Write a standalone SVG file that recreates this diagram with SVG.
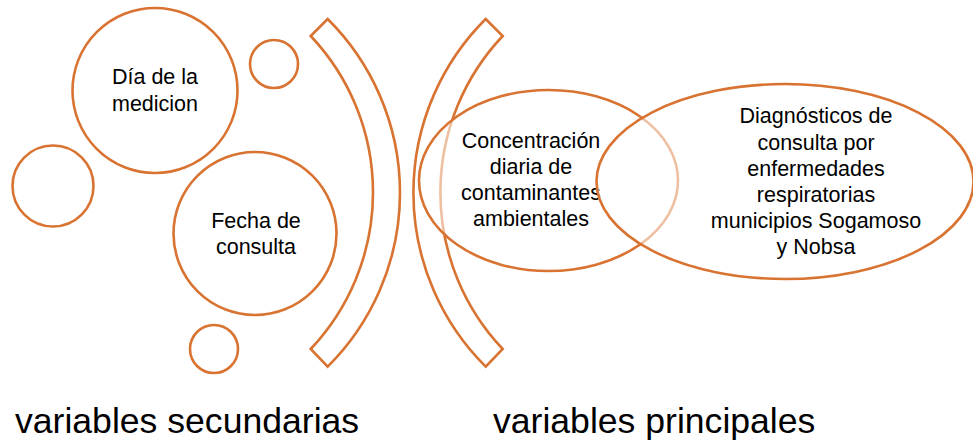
<svg xmlns="http://www.w3.org/2000/svg" width="973" height="442" viewBox="0 0 973 442">
  <style>
    .s { stroke: #D97331; stroke-width: 2.6; fill: #FFFFFF; }
    .t { fill: rgba(255,255,255,0.55); stroke: #D97331; stroke-width: 2.6; }
    .lbl { font-family: "Liberation Sans", Arial, sans-serif; font-size: 21.5px; fill: #000000; text-anchor: middle; }
    .big { font-family: "Liberation Sans", Arial, sans-serif; font-size: 35.6px; fill: #000000; }
  </style>
  <rect width="973" height="442" fill="#FFFFFF"/>
  <g id="circle-small-top"><circle class="s" cx="274" cy="64" r="24"/></g>
  <g id="circle-left"><circle class="s" cx="53" cy="186" r="40.5"/></g>
  <g id="circle-small-bottom"><circle class="s" cx="214" cy="349" r="24"/></g>
  <g id="node-dia">
    <circle class="s" cx="155" cy="90.5" r="82.5"/>
    <text class="lbl" x="155" y="84">Día de la</text>
    <text class="lbl" x="155" y="110.5">medicion</text>
  </g>
  <g id="node-fecha">
    <circle class="s" cx="255" cy="233.5" r="81.5"/>
    <text class="lbl" x="256" y="227.5">Fecha de</text>
    <text class="lbl" x="256" y="254">consulta</text>
  </g>
  <g id="brackets">
    <path class="s" d="M327.7,19 L310.7,36 A227.7,227.7 0 0 1 310.7,349 L327.7,366.7 A245.2,245.2 0 0 0 327.7,19 Z"/>
    <path class="s" d="M485.7,19 L502.7,36 A227.7,227.7 0 0 0 502.7,349 L485.7,366.7 A245.2,245.2 0 0 1 485.7,19 Z"/>
  </g>
  <g id="node-concentracion">
    <ellipse class="t" cx="548.5" cy="180.5" rx="129.5" ry="90.5"/>
    <text class="lbl" x="531" y="147.5">Concentración</text>
    <text class="lbl" x="531" y="173.8">diaria de</text>
    <text class="lbl" x="531" y="200">contaminantes</text>
    <text class="lbl" x="531" y="226.3">ambientales</text>
  </g>
  <g id="node-diagnosticos">
    <ellipse class="t" cx="785" cy="181.5" rx="188.5" ry="97.5"/>
    <text class="lbl" x="816" y="123.3">Diagnósticos de</text>
    <text class="lbl" x="816" y="149.5">consulta por</text>
    <text class="lbl" x="816" y="175.8">enfermedades</text>
    <text class="lbl" x="816" y="202">respiratorias</text>
    <text class="lbl" x="816" y="228.2">municipios Sogamoso</text>
    <text class="lbl" x="816" y="254.4">y Nobsa</text>
  </g>
  <g id="labels">
    <text class="big" x="15" y="433">variables secundarias</text>
    <text class="big" x="493" y="433">variables principales</text>
  </g>
</svg>
